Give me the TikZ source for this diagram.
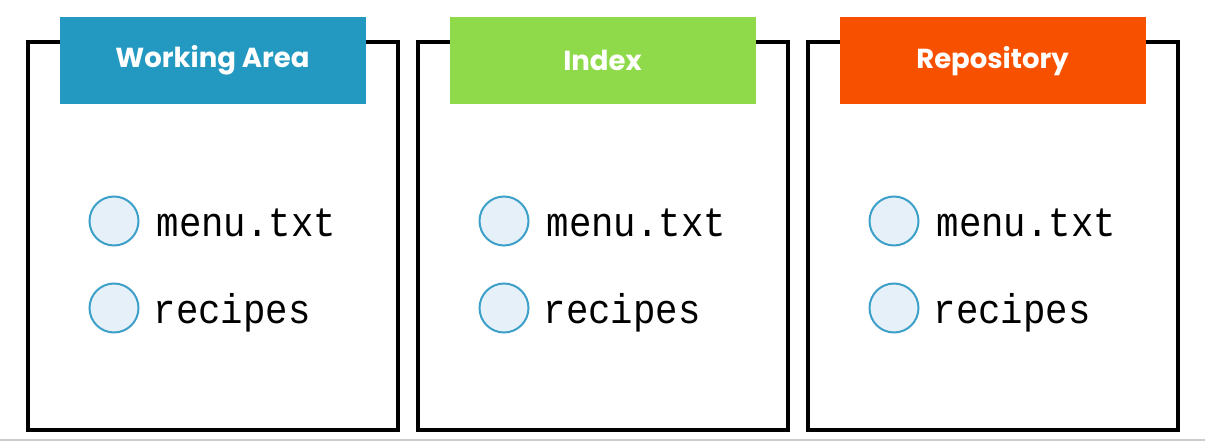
\documentclass[tikz,border=0pt]{standalone}
\usepackage{fontspec}
\usetikzlibrary{positioning, calc}
\newfontfamily\headfont{Poppins}
\newfontfamily\filefont[FakeStretch=0.9]{Liberation Mono}
\definecolor{wablue}{HTML}{2399C1}
\definecolor{ixgreen}{HTML}{8FDA4B}
\definecolor{reorange}{HTML}{F75100}
\definecolor{dotfill}{HTML}{E6F0F8}
\definecolor{dotline}{HTML}{3DA0C8}
\tikzset{
    area/.style={draw=black, line width=4pt, outer sep=0pt, minimum width=370pt, minimum height=388pt},
    header/.style={minimum width=306pt, minimum height=87pt, inner sep=0pt, anchor=north, yshift=25.5pt,
        text=white, font=\headfont\bfseries\fontsize{27.5}{32}\selectfont},
    dot/.style={circle, draw=dotline, fill=dotfill, line width=2pt, minimum size=49pt, inner sep=0pt},
    fname/.style={inner sep=0pt, font=\filefont\fontsize{41.5}{48}\selectfont},
}

\begin{document}
\begin{tikzpicture}[x=1pt,y=-1pt]
\useasboundingbox (0,0) rectangle (1205,443);

\node[area] (wa) at (212.5,236.5) {};
\node[area] (ix) [right=20pt of wa] {};
\node[area] (re) [right=20pt of ix] {};

\node[header, fill=wablue] (wah) at (wa.north) {Working Area};
\node[header, fill=ixgreen] (ixh) at (ix.north) {Index};
\node[header, fill=reorange] (reh) at (re.north) {Repository};

% working area
\node[dot] (wa1) at ($(wa.north west)+(86.5,178.5)$) {};
\node[dot] (wa2) [below=36pt of wa1] {};
\node[fname, right=17pt of wa1, anchor=base west, yshift=-16pt] (wa1t) {menu.txt};
\node[fname, right=14pt of wa2, anchor=base west, yshift=-16pt] (wa2t) {recipes};

% index
\node[dot] (ix1) at ($(ix.north west)+(86.5,178.5)$) {};
\node[dot] (ix2) [below=36pt of ix1] {};
\node[fname, right=17pt of ix1, anchor=base west, yshift=-16pt] (ix1t) {menu.txt};
\node[fname, right=14pt of ix2, anchor=base west, yshift=-16pt] (ix2t) {recipes};

% repository
\node[dot] (re1) at ($(re.north west)+(86.5,178.5)$) {};
\node[dot] (re2) [below=36pt of re1] {};
\node[fname, right=17pt of re1, anchor=base west, yshift=-16pt] (re1t) {menu.txt};
\node[fname, right=14pt of re2, anchor=base west, yshift=-16pt] (re2t) {recipes};

\draw[gray!40, line width=2pt] (0,440) -- (1205,440);

\end{tikzpicture}
\end{document}
